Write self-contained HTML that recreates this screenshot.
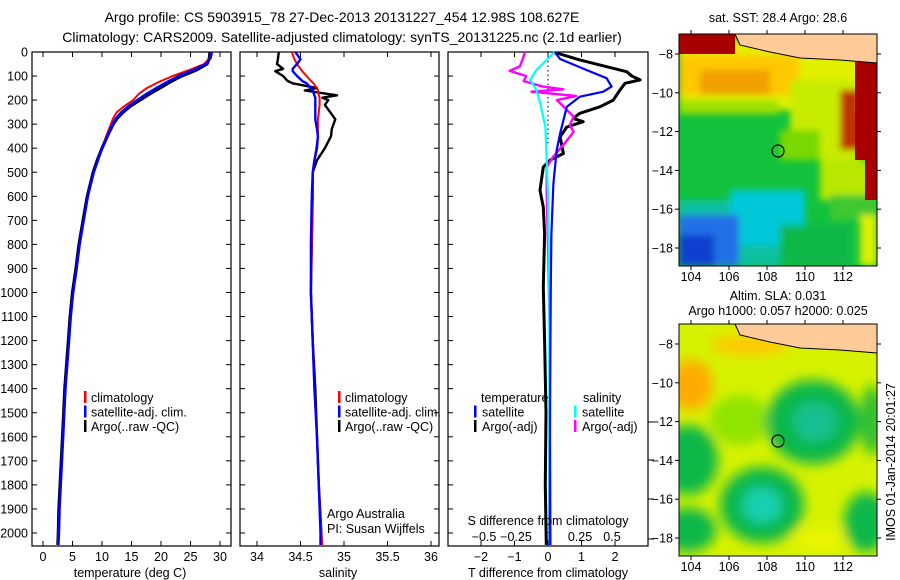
<!DOCTYPE html>
<html><head><meta charset="utf-8"><style>
body{margin:0;background:#fff;}
svg{display:block;font-family:"Liberation Sans",sans-serif;}
text{fill:#000;}
</style></head><body>
<svg id="fig" width="900" height="580" viewBox="0 0 900 580">
<defs>
<filter id="bl" x="-20%" y="-20%" width="140%" height="140%"><feGaussianBlur stdDeviation="6"/></filter>
<filter id="bl2" x="-20%" y="-20%" width="140%" height="140%"><feGaussianBlur stdDeviation="3.5"/></filter>
<clipPath id="c1"><rect x="679" y="34" width="198" height="232"/></clipPath>
<clipPath id="c2"><rect x="679" y="324" width="198" height="232"/></clipPath>
</defs>
<text x="342" y="22" text-anchor="middle" font-size="14">Argo profile: CS 5903915_78 27-Dec-2013 20131227_454 12.98S 108.627E</text>
<text x="342" y="42" text-anchor="middle" font-size="14">Climatology: CARS2009. Satellite-adjusted climatology: synTS_20131225.nc (2.1d earlier)</text>
<g id="panels"></g>

<!-- SST map -->
<g>
<text x="778" y="22" text-anchor="middle" font-size="12.5">sat. SST: 28.4 Argo: 28.6</text>
<g clip-path="url(#c1)">
<rect x="679" y="34" width="198" height="232" fill="#12c23c"/>
<g filter="url(#bl2)">
<rect x="679" y="40" width="198" height="70" fill="#e2f000"/>
<rect x="679" y="55" width="120" height="40" fill="#ffc800"/>
<rect x="700" y="70" width="70" height="25" fill="#f0a000"/>
<rect x="679" y="100" width="100" height="14" fill="#9ee000"/>
<rect x="790" y="80" width="70" height="80" fill="#c8ec00"/>
<rect x="780" y="130" width="40" height="30" fill="#7ad800"/>
<rect x="820" y="160" width="50" height="40" fill="#b8e800"/>
<rect x="830" y="195" width="47" height="25" fill="#40c830"/>
<rect x="860" y="215" width="17" height="51" fill="#d8f000"/>
<rect x="679" y="200" width="120" height="66" fill="#10c0a0"/>
<rect x="730" y="190" width="75" height="55" fill="#00c8d8"/>
<rect x="679" y="215" width="60" height="51" fill="#2070e8"/>
<rect x="679" y="235" width="35" height="31" fill="#1040d0"/>
<rect x="780" y="225" width="70" height="41" fill="#10b848"/>
<rect x="840" y="90" width="20" height="60" fill="#c03000"/>
</g>
<rect x="679" y="34" width="56" height="20" fill="#a80000"/>
<path d="M855,62 L877,62 L877,200 L865,200 L865,160 L855,160 Z" fill="#a80000"/>
<path d="M735,34 L877,34 L877,63 L840,60 L800,58 L770,52 L740,45 Z" fill="#ffcc99" stroke="#000" stroke-width="1"/>
</g>
<rect x="679" y="34" width="198" height="232" fill="none" stroke="#000"/>
<circle cx="778" cy="151" r="6" fill="none" stroke="#000" stroke-width="1.2"/>
</g>

<!-- SLA map -->
<g>
<text x="778" y="300" text-anchor="middle" font-size="12.5">Altim. SLA: 0.031</text>
<text x="778" y="315" text-anchor="middle" font-size="12.5">Argo h1000: 0.057 h2000: 0.025</text>
<g clip-path="url(#c2)">
<rect x="679" y="324" width="198" height="232" fill="#d6f200"/>
<g filter="url(#bl)">
<ellipse cx="691" cy="385" rx="22" ry="25" fill="#ffaa00"/>
<ellipse cx="750" cy="345" rx="40" ry="10" fill="#ffc800"/>
<ellipse cx="740" cy="420" rx="30" ry="25" fill="#90e400"/>
<ellipse cx="813" cy="422" rx="47" ry="42" fill="#10b848"/>
<ellipse cx="815" cy="422" rx="22" ry="20" fill="#18c090"/>
<ellipse cx="762" cy="505" rx="42" ry="38" fill="#10b848"/>
<ellipse cx="762" cy="505" rx="20" ry="18" fill="#18d0b0"/>
<ellipse cx="688" cy="460" rx="30" ry="35" fill="#10b848"/>
<ellipse cx="688" cy="530" rx="28" ry="22" fill="#10b848"/>
<ellipse cx="866" cy="522" rx="22" ry="30" fill="#10b848"/>
<ellipse cx="872" cy="420" rx="12" ry="35" fill="#30c030"/>
<ellipse cx="820" cy="540" rx="25" ry="12" fill="#eaf400"/>
</g>
<path d="M735,324 L877,324 L877,353 L840,350 L800,348 L770,342 L740,335 Z" fill="#ffcc99" stroke="#000" stroke-width="1"/>
</g>
<rect x="679" y="324" width="198" height="232" fill="none" stroke="#000"/>
<circle cx="778" cy="441" r="6" fill="none" stroke="#000" stroke-width="1.2"/>
<text transform="translate(895,462) rotate(-90)" text-anchor="middle" font-size="12.5">IMOS 01-Jan-2014 20:01:27</text>
</g>
<g id="maxes"></g>
</svg>
<script>
// ---- data ----
const depthT = [0,25,50,75,100,125,150,175,200,225,250,275,300,350,400,450,500,600,700,800,900,1000,1100,1200,1300,1400,1500,1600,1700,1800,1900,2000,2050];
const tArgo = [28.3,28.2,27.8,26.0,23.5,21.5,19.8,18.0,16.4,14.8,13.6,12.6,11.9,10.9,10.0,9.2,8.5,7.5,6.8,6.1,5.6,5.0,4.6,4.3,4.0,3.7,3.5,3.3,3.1,2.9,2.7,2.6,2.5];
const tClim = [28.5,28.3,27.3,24.8,22.0,19.6,17.6,16.2,15.3,13.8,12.5,11.9,11.5,10.7,10.0,9.3,8.6,7.6,6.9,6.2,5.7,5.1,4.7,4.4,4.1,3.8,3.6,3.4,3.2,3.0,2.8,2.6,2.5];
const tSat = [28.6,28.4,27.6,25.5,23.0,21.0,19.2,17.5,16.0,14.5,13.3,12.4,11.8,10.9,10.0,9.3,8.6,7.6,6.9,6.2,5.7,5.1,4.7,4.4,4.1,3.8,3.6,3.4,3.2,3.0,2.8,2.7,2.6];
const depthS = [0,30,50,70,80,100,120,130,150,160,180,190,200,220,250,280,320,350,400,450,500,600,800,1000,1200,1400,1600,1800,2000,2050];
const sArgo = [34.25,34.24,34.23,34.3,34.21,34.3,34.35,34.41,34.69,34.55,34.92,34.75,34.82,34.78,34.84,34.9,34.86,34.85,34.78,34.69,34.64,34.64,34.63,34.62,34.64,34.67,34.69,34.71,34.74,34.74];
const sClim = [34.40,34.43,34.46,34.5,34.52,34.57,34.62,34.65,34.69,34.7,34.71,34.72,34.72,34.72,34.71,34.7,34.7,34.7,34.68,34.66,34.64,34.64,34.63,34.62,34.64,34.66,34.69,34.71,34.74,34.75];
const sSat = [34.44,34.5,34.46,34.41,34.41,34.46,34.52,34.57,34.62,34.64,34.66,34.67,34.67,34.67,34.67,34.67,34.69,34.7,34.69,34.66,34.64,34.63,34.62,34.62,34.64,34.66,34.69,34.71,34.73,34.73];
const depthDTArgo = [4,33,61,82,100,116,130,158,200,228,255,276,290,312,353,422,450,478,575,645,755,977,1200,1500,1800,2050];
const dTArgo = [0.26,0.95,1.75,2.35,2.5,2.75,2.3,2.15,1.95,1.55,0.95,0.75,1.05,0.56,0.36,0.46,0.06,-0.14,-0.24,-0.14,-0.1,-0.14,-0.1,-0.06,-0.08,-0.05];
const depthDTSat = [0,29,75,109,144,165,186,228,339,408,547,755,1000,1500,2050];
const dTSat = [0.2,0.36,1.15,1.75,1.9,1.65,0.95,0.56,0.36,0.26,0.16,0.1,0.08,0.06,0.05];
const depthDSArgo = [0,33,60,78,100,121,144,155,165,183,200,269,304,332,380,436,478,582,800,1200,1600,2050];
const dSArgo = [-0.18,-0.2,-0.22,-0.3,-0.17,-0.19,-0.04,0.12,-0.13,0.22,0.07,0.2,0.17,0.2,0.13,0.04,-0.01,-0.01,0.0,0.015,0.015,0.02];
const depthDSSat = [0,33,75,116,158,214,312,450,600,1000,2050];
const dSSat = [0.05,-0.01,-0.09,-0.14,-0.09,-0.06,-0.02,-0.01,0,0.01,0.01];
const depthTicks = [0,100,200,300,400,500,600,700,800,900,1000,1100,1200,1300,1400,1500,1600,1700,1800,1900,2000];
const tTicks = [0,5,10,15,20,25,30];
const sTicks = [34,34.5,35,35.5,36];
const sTickLabels = ["34","34.5","35","35.5","36"];
const dTTicks = [-2,-1,0,1,2];
const dSTicks = [-0.5,-0.25,0,0.25,0.5];
const dSTickLabels = ["\u22120.5","\u22120.25","0","0.25","0.5"];
const lonTicks = [104,106,108,110,112];
const latTicks = [-8,-10,-12,-14,-16,-18];

// ---- scales ----
const Y0=52, YB=546;
const yD = d => Y0 + d*0.2405;
const xT = t => 43 + t*5.9;
const xS = s => 257 + (s-34)*87;
const xDT = v => 548 + v*33.5;
const xDS = v => 548 + v*128;
const xLon = l => 691 + (l-104)*19;
const yLat1 = l => 54 + (-8-l)*19.4;
const yLat2 = l => 344 + (-8-l)*19.4;

const NS='http://www.w3.org/2000/svg';
const root=document.getElementById('panels');
function el(tag, attrs, parent){const e=document.createElementNS(NS,tag);for(const k in attrs)e.setAttribute(k,attrs[k]);(parent||root).appendChild(e);return e;}
function txt(x,y,s,anchor,size,parent){const t=el('text',{x:x,y:y,'text-anchor':anchor||'middle','font-size':size||12.5},parent);t.textContent=s;return t;}
function line(xs, ds, xf, color, w, name){
  let d='';
  for(let i=0;i<xs.length;i++){d+=(i?'L':'M')+xf(xs[i]).toFixed(1)+','+yD(Math.min(ds[i],2060)).toFixed(1);}
  const p=el('path',{d:d,fill:'none',stroke:color,'stroke-width':w,'stroke-linejoin':'round'});
  
  
  return p;
}
function frame(x0,x1,name){
  const r=el('rect',{x:x0,y:Y0,width:x1-x0,height:YB-Y0,fill:'none',stroke:'#000','stroke-width':1.2});
  
  
}
function xticks(vals,labels,xf,ylab){
  vals.forEach((v,i)=>{const x=xf(v);
    el('line',{x1:x,x2:x,y1:Y0,y2:Y0+5,stroke:'#000'});
    el('line',{x1:x,x2:x,y1:YB,y2:YB-5,stroke:'#000'});
    if(ylab) txt(x,ylab,labels[i]);});
}
function legendMark(x,y,color){el('rect',{x:x,y:y-11,width:2.5,height:12,fill:color});}

// Panel 1: temperature
frame(32,231,'temperature-panel');
depthTicks.forEach(d=>{const y=yD(d);
  el('line',{x1:32,x2:37,y1:y,y2:y,stroke:'#000'});
  el('line',{x1:231,x2:226,y1:y,y2:y,stroke:'#000'});
  const t=txt(28,y+4.5,String(d),'end',12.5);  });
xticks(tTicks,tTicks.map(String),xT,561);
line(tArgo,depthT,xT,'#000',3.2,'temperature-argo-line');
line(tClim,depthT,xT,'#f00',2,'temperature-climatology-line');
line(tSat,depthT,xT,'#00f',2.6,'temperature-satellite-line');
txt(130,577,'temperature (deg C)');
[['climatology','#f00'],['satellite-adj. clim.','#00f'],['Argo(..raw -QC)','#000']].forEach((e,i)=>{
  legendMark(84,402+i*14.5,e[1]); const t=txt(91,402+i*14.5,e[0],'start',12.5);
   });

// Panel 2: salinity
frame(240,439,'salinity-panel');
depthTicks.forEach(d=>{const y=yD(d);
  el('line',{x1:240,x2:245,y1:y,y2:y,stroke:'#000'});
  el('line',{x1:439,x2:434,y1:y,y2:y,stroke:'#000'});});
xticks(sTicks,sTickLabels,xS,561);
line(sArgo,depthS,xS,'#000',2.4,'salinity-argo-line');
line(sClim,depthS,xS,'#f00',2,'salinity-climatology-line');
line(sSat,depthS,xS,'#00f',2.4,'salinity-satellite-line');
txt(338,577,'salinity');
[['climatology','#f00'],['satellite-adj. clim.','#00f'],['Argo(..raw -QC)','#000']].forEach((e,i)=>{
  legendMark(338,402+i*14.5,e[1]); const t=txt(345,402+i*14.5,e[0],'start',12.5);
   });
txt(327,518,'Argo Australia','start');
txt(327,533,'PI: Susan Wijffels','start');

// Panel 3: differences
frame(448,648,'difference-panel');
depthTicks.forEach(d=>{const y=yD(d);
  el('line',{x1:448,x2:453,y1:y,y2:y,stroke:'#000'});});
[422,460,499,539].forEach(y=>el('line',{x1:648,x2:654,y1:y,y2:y,stroke:'#000'}));
xticks(dTTicks,dTTicks.map(v=>v<0?'\u2212'+(-v):String(v)),xDT,561);
dSTicks.forEach((v,i)=>{const t=txt(xDS(v),541,dSTickLabels[i]);  });
el('line',{x1:548,x2:548,y1:Y0,y2:yD(380),stroke:'#000','stroke-dasharray':'1.5,3'});
line(dTArgo,depthDTArgo,xDT,'#000',3,'t-diff-argo-line');
line(dSArgo,depthDSArgo,xDS,'#f0f',2.4,'s-diff-argo-line');
line(dSSat,depthDSSat,xDS,'#0ff',2.2,'s-diff-satellite-line');
line(dTSat,depthDTSat,xDT,'#00f',2.2,'t-diff-satellite-line');
txt(548,525,'S difference from climatology');
txt(548,577,'T difference from climatology');
txt(481,402,'temperature','start');
txt(583,402,'salinity','start');
[['satellite','#00f',474],['Argo(-adj)','#000',474],['satellite','#0ff',574],['Argo(-adj)','#f0f',574]].forEach((e,i)=>{
  const y=416.5+(i%2)*14.5; legendMark(e[2],y,e[1]); const t=txt(e[2]+8,y,e[0],'start',12.5);
   });

// map axes
const mg=document.getElementById('maxes');
[[yLat1,34,266,281],[yLat2,324,556,571]].forEach(m=>{
  lonTicks.forEach(l=>{const x=xLon(l);
    el('line',{x1:x,x2:x,y1:m[1],y2:m[1]-4,stroke:'#000'},mg);
    el('line',{x1:x,x2:x,y1:m[2],y2:m[2]+4,stroke:'#000'},mg);
    txt(x,m[3],String(l),'middle',12.5,mg);});
  latTicks.forEach(l=>{const y=m[0](l);
    el('line',{x1:679,x2:675,y1:y,y2:y,stroke:'#000'},mg);
    el('line',{x1:877,x2:881,y1:y,y2:y,stroke:'#000'},mg);
    txt(673,y+4.5,'\u2212'+(-l),'end',12.5,mg);});
});
</script>
</body></html>
